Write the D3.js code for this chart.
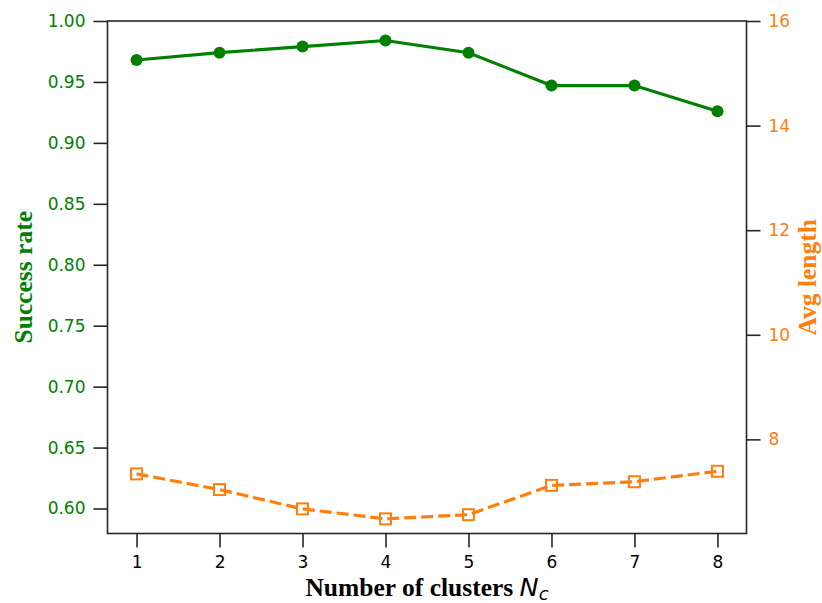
<!DOCTYPE html>
<html>
<head>
<meta charset="utf-8">
<script src="https://cdn.jsdelivr.net/npm/d3@7/dist/d3.min.js"></script>
<style>
  body { margin: 0; background: #fff; }
  svg { display: block; }
</style>
</head>
<body>
<svg width="822" height="603"></svg>
<script>
// data
var clusters = [1, 2, 3, 4, 5, 6, 7, 8];
var successRate = [0.968, 0.974, 0.979, 0.984, 0.974, 0.947, 0.947, 0.926];
var avgLength = [7.34, 7.04, 6.67, 6.48, 6.56, 7.12, 7.19, 7.39];
var leftTicks = [0.60, 0.65, 0.70, 0.75, 0.80, 0.85, 0.90, 0.95, 1.00];
var rightTicks = [8, 10, 12, 14, 16];

var green = '#008000';
var orange = '#ff7f0e';
var spine = '#262626';

var svg = d3.select('svg');

// plot box (note: "top" is taken by window.top)
var boxL = 107.5, boxR = 746.5, boxT = 21, boxB = 533.5;

var x = d3.scaleLinear().domain([0.65, 8.35]).range([boxL, boxR]);
var yL = d3.scaleLinear().domain([0.5795, 1.0]).range([boxB, boxT]);
var yR = d3.scaleLinear().domain([6.2, 16]).range([boxB, boxT]);

// axes
var styleAxis = function(g, color) {
  g.select('.domain').remove();
  g.selectAll('.tick line').attr('stroke', spine).attr('stroke-width', 1.6);
  g.selectAll('.tick text')
    .attr('fill', color)
    .style('font-family', 'DejaVu Sans')
    .style('font-size', '17px');
};

svg.append('g')
  .attr('transform', 'translate(0,' + boxB + ')')
  .call(d3.axisBottom(x).tickValues(clusters).tickFormat(d3.format('d')).tickSize(14).tickPadding(8))
  .call(styleAxis, '#000');

svg.append('g')
  .attr('transform', 'translate(' + boxL + ',0)')
  .call(d3.axisLeft(yL).tickValues(leftTicks).tickFormat(d3.format('.2f')).tickSize(14).tickPadding(8))
  .call(styleAxis, green);

svg.append('g')
  .attr('transform', 'translate(' + boxR + ',0)')
  .call(d3.axisRight(yR).tickValues(rightTicks).tickFormat(d3.format('d')).tickSize(14).tickPadding(8))
  .call(styleAxis, orange);

// frame
svg.append('rect')
  .attr('x', boxL).attr('y', boxT)
  .attr('width', boxR - boxL).attr('height', boxB - boxT)
  .attr('fill', 'none').attr('stroke', spine).attr('stroke-width', 1.6);

// avg length series
var lineR = d3.line()
  .x(function(d, i) { return x(clusters[i]); })
  .y(function(d) { return yR(d); });

svg.append('path')
  .datum(avgLength)
  .attr('d', lineR)
  .attr('fill', 'none')
  .attr('stroke', orange)
  .attr('stroke-width', 3.2)
  .attr('stroke-dasharray', '12,5');

svg.selectAll('rect.sq')
  .data(avgLength)
  .enter().append('rect')
  .attr('class', 'sq')
  .attr('x', function(d, i) { return x(clusters[i]) - 5.5; })
  .attr('y', function(d) { return yR(d) - 5.5; })
  .attr('width', 11).attr('height', 11)
  .attr('fill', 'none')
  .attr('stroke', orange)
  .attr('stroke-width', 2);

// success rate series
var lineL = d3.line()
  .x(function(d, i) { return x(clusters[i]); })
  .y(function(d) { return yL(d); });

svg.append('path')
  .datum(successRate)
  .attr('d', lineL)
  .attr('fill', 'none')
  .attr('stroke', green)
  .attr('stroke-width', 3.2);

svg.selectAll('circle.pt')
  .data(successRate)
  .enter().append('circle')
  .attr('class', 'pt')
  .attr('cx', function(d, i) { return x(clusters[i]); })
  .attr('cy', function(d) { return yL(d); })
  .attr('r', 6)
  .attr('fill', green);

// axis labels
var midY = (boxT + boxB) / 2;

svg.append('text')
  .attr('transform', 'translate(32,' + midY + ') rotate(-90)')
  .attr('text-anchor', 'middle')
  .attr('fill', green)
  .style('font-family', 'Liberation Serif')
  .style('font-weight', 'bold')
  .style('font-size', '25.5px')
  .text('Success rate');

svg.append('text')
  .attr('transform', 'translate(816,' + midY + ') rotate(-90)')
  .attr('text-anchor', 'middle')
  .attr('fill', orange)
  .style('font-family', 'Liberation Serif')
  .style('font-weight', 'bold')
  .style('font-size', '25.5px')
  .text('Avg length');

var xl = svg.append('text')
  .attr('x', (boxL + boxR) / 2)
  .attr('y', 596)
  .attr('text-anchor', 'middle')
  .attr('fill', '#000')
  .style('font-family', 'Liberation Serif')
  .style('font-weight', 'bold')
  .style('font-size', '25.5px');
xl.append('tspan').text('Number of clusters ');
xl.append('tspan')
  .style('font-family', 'DejaVu Sans')
  .style('font-style', 'oblique')
  .style('font-weight', 'normal')
  .text('N');
xl.append('tspan')
  .attr('dy', 4)
  .style('font-family', 'DejaVu Sans')
  .style('font-style', 'oblique')
  .style('font-weight', 'normal')
  .style('font-size', '18px')
  .text('c');
</script>
</body>
</html>
